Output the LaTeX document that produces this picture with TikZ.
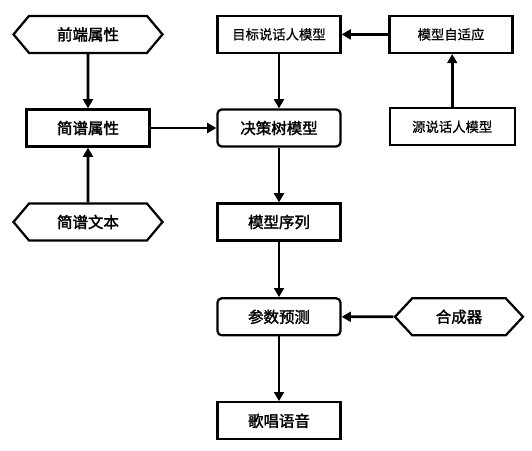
\documentclass[tikz,border=0pt]{standalone}
\usepackage{fontspec}
\newfontfamily\cjk{Noto Sans CJK SC}[FakeBold=0.8]
\newfontfamily\cjkgras{Noto Sans CJK SC}[FakeBold=2]
\usetikzlibrary{calc,backgrounds,arrows.meta,shapes.symbols}

\begin{document}
\begin{tikzpicture}[%
    show background rectangle,%
    tight background,%
    background rectangle/.style={fill=white}%
    ]
    %
    % Définitions
    %
    \pgfmathsetmacro{\xl}{2.2};%
    \pgfmathsetmacro{\xm}{6.975};%
    \pgfmathsetmacro{\xr}{11.275};%
    \pgfmathsetmacro{\xs}{11.475};%
    \pgfmathsetmacro{\ya}{-0.86};%
    \pgfmathsetmacro{\yb}{-3.2};%
    \pgfmathsetmacro{\yc}{-5.55};%
    \pgfmathsetmacro{\yd}{-7.92};%
    \pgfmathsetmacro{\ye}{-10.52};%

    %
    % Styles
    %
    \tikzset{boite/.style={draw,line width=1.6pt,minimum width=3.075cm,%
        minimum height=0.925cm,inner sep=0pt,font=\fontsize{11}{13}\cjkgras}};%
    \tikzset{boiteronde/.style={boite,rounded corners=3pt}};%
    \tikzset{boitefine/.style={boite,font=\fontsize{9.5}{11}\cjk}};%
    \tikzset{entree/.style={boite,signal,signal to=east and west,%
        signal pointer angle=100,minimum width=3.725cm}};%
    \tikzset{fleche/.style={-{Triangle[length=6.5pt,width=7pt]},line width=2pt}};%

    %
    % Coordonnées
    %
    \coordinate (hg) at (0,0);%
    \coordinate (bd) at (13.3,-11.25);%
    \useasboundingbox (hg) rectangle (bd);%

    %
    % Dessin
    %
    % Colonne gauche
    \node[entree] (front) at (\xl,\ya) {前端属性};%
    \node[boite] (jpattr) at (\xl,\yb) {简谱属性};%
    \node[entree] (jptext) at (\xl,\yc) {简谱文本};%

    % Colonne centrale
    \node[boitefine] (cible) at (\xm,\ya) {目标说话人模型};%
    \node[boiteronde] (arbre) at (\xm,\yb) {决策树模型};%
    \node[boite] (sequence) at (\xm,\yc) {模型序列};%
    \node[boiteronde] (param) at (\xm,\yd) {参数预测};%
    \node[boite] (chant) at (\xm,\ye) {歌唱语音};%

    % Colonne droite
    \node[boitefine] (adapt) at (\xr,\ya) {模型自适应};%
    \node[boitefine,minimum width=3.125cm] (source) at (\xr+0.03,\yb+0.03) {源说话人模型};%
    \node[entree,minimum width=3.2cm,signal pointer angle=94] (synth) at (\xs,\yd) {合成器};%

    % Flèches
    \draw[fleche] (front) -- (jpattr);%
    \draw[fleche] (jptext) -- (jpattr);%
    \draw[fleche] (jpattr) -- (arbre);%
    \draw[fleche] (cible) -- (arbre);%
    \draw[fleche] (adapt) -- (cible);%
    \draw[fleche] (source) -- (source |- adapt.south);%
    \draw[fleche] (arbre) -- (sequence);%
    \draw[fleche] (sequence) -- (param);%
    \draw[fleche] (param) -- (chant);%
    \draw[fleche] (synth) -- (param);%

\end{tikzpicture}
\end{document}
